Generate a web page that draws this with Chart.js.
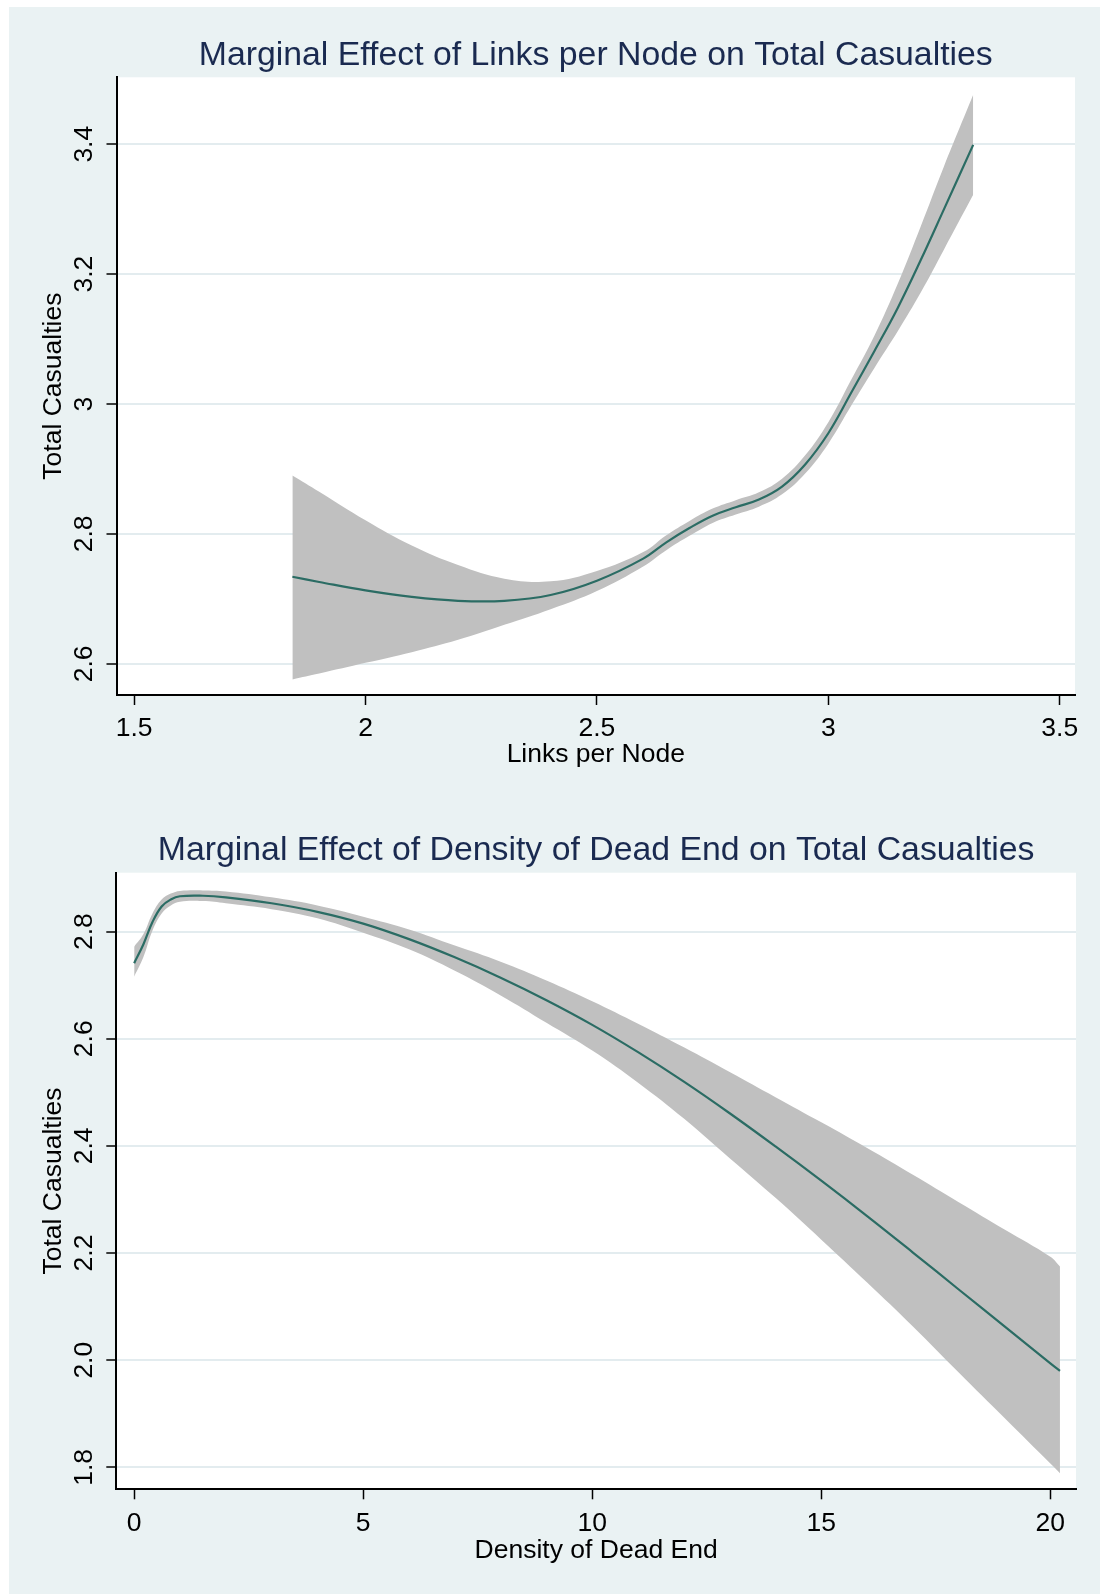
<!DOCTYPE html>
<html>
<head>
<meta charset="utf-8">
<title>Marginal effects on total casualties</title>
<script src="https://cdn.jsdelivr.net/npm/chart.js@4.4.1/dist/chart.umd.min.js"></script>
<style>
  body { margin: 0; background: #fff; width: 1100px; height: 1594px; position: relative; overflow: hidden; }
  #bg { position: absolute; left: 9px; top: 7px; width: 1091px; height: 1587px; background: #eaf2f3; }
  canvas { position: absolute; left: 0; }
  #linksChart { top: 0; }
  #deadEndChart { top: 790px; }
</style>
</head>
<body>
<div id="bg"></div>
<canvas id="linksChart" width="1100" height="790"></canvas>
<canvas id="deadEndChart" width="1100" height="804"></canvas>
<script>
// top panel: links per node
const linksX     = [1.842, 1.9, 2.0, 2.1, 2.2, 2.3, 2.4, 2.5, 2.6, 2.65, 2.7, 2.75, 2.8, 2.85, 2.9, 2.95, 3.0, 3.05, 3.1, 3.15, 3.2, 3.25, 3.313];
const linksFit   = [2.734, 2.726, 2.713, 2.703, 2.697, 2.697, 2.706, 2.728, 2.762, 2.787, 2.809, 2.828, 2.841, 2.853, 2.873, 2.907, 2.955, 3.018, 3.082, 3.148, 3.222, 3.300, 3.399];
const linksUpper = [2.890, 2.865, 2.821, 2.782, 2.752, 2.731, 2.727, 2.743, 2.772, 2.798, 2.820, 2.839, 2.852, 2.864, 2.885, 2.921, 2.972, 3.038, 3.106, 3.185, 3.274, 3.366, 3.476];
const linksLower = [2.576, 2.585, 2.6015, 2.618, 2.637, 2.660, 2.684, 2.712, 2.750, 2.775, 2.797, 2.817, 2.830, 2.842, 2.861, 2.893, 2.939, 2.998, 3.056, 3.112, 3.172, 3.238, 3.322];
const linksXTicks  = [1.5, 2, 2.5, 3, 3.5];
const linksXLabels = ['1.5', '2', '2.5', '3', '3.5'];
const linksYTicks  = [2.6, 2.8, 3.0, 3.2, 3.4];
const linksYLabels = ['2.6', '2.8', '3', '3.2', '3.4'];

// bottom panel: density of dead end
const deadX     = [0, 0.2, 0.4, 0.6, 0.8, 1.0, 1.5, 2, 3, 4, 5, 6, 7, 8, 9, 10, 11, 12, 13, 14, 15, 16, 17, 18, 19, 20, 20.21];
const deadFit   = [2.741, 2.776, 2.818, 2.847, 2.860, 2.866, 2.867, 2.864, 2.853, 2.837, 2.815, 2.786, 2.752, 2.714, 2.672, 2.626, 2.575, 2.520, 2.461, 2.399, 2.335, 2.269, 2.201, 2.132, 2.063, 1.994, 1.980];
const deadUpper = [2.772, 2.795, 2.834, 2.860, 2.871, 2.876, 2.877, 2.875, 2.864, 2.849, 2.828, 2.804, 2.774, 2.744, 2.709, 2.670, 2.628, 2.584, 2.538, 2.491, 2.444, 2.396, 2.346, 2.295, 2.244, 2.193, 2.175];
const deadLower = [2.716, 2.752, 2.802, 2.834, 2.849, 2.856, 2.857, 2.853, 2.842, 2.825, 2.798, 2.767, 2.727, 2.681, 2.630, 2.578, 2.518, 2.451, 2.377, 2.303, 2.225, 2.145, 2.063, 1.977, 1.892, 1.807, 1.789];
const deadXTicks  = [0, 5, 10, 15, 20];
const deadXLabels = ['0', '5', '10', '15', '20'];
const deadYTicks  = [1.8, 2.0, 2.2, 2.4, 2.6, 2.8];
const deadYLabels = ['1.8', '2.0', '2.2', '2.4', '2.6', '2.8'];

const FONT = '"Liberation Sans", Arial, sans-serif';
const LINE = '#2b6c64';
const BAND = '#c0c0c0';
const GRID = '#e3ecef';
const NAVY = '#1a2a50';

// white plot region on the blue-gray graph region
const whitePlot = {
  id: 'whitePlot',
  beforeDraw(chart) {
    const a = chart.chartArea;
    const ctx = chart.ctx;
    ctx.save();
    ctx.fillStyle = '#ffffff';
    ctx.fillRect(a.left, a.top, a.right - a.left, a.bottom - a.top);
    ctx.restore();
  }
};

function pts(xs, ys) {
  return xs.map((x, i) => ({ x: x, y: ys[i] }));
}

function marginsChart(id, c) {
  return new Chart(document.getElementById(id), {
    type: 'line',
    data: {
      datasets: [
        { label: 'fit', data: pts(c.xs, c.fit), borderColor: LINE, borderWidth: 2.2,
          pointRadius: 0, tension: 0.4, fill: false },
        { label: 'upper', data: pts(c.xs, c.upper), borderColor: 'rgba(0,0,0,0)', borderWidth: 1,
          pointRadius: 0, tension: 0.4, backgroundColor: BAND, fill: '+1' },
        { label: 'lower', data: pts(c.xs, c.lower), borderColor: 'rgba(0,0,0,0)', borderWidth: 1,
          pointRadius: 0, tension: 0.4, fill: false }
      ]
    },
    options: {
      responsive: false,
      animation: false,
      devicePixelRatio: 1,
      layout: { padding: { left: 0, right: c.rightPad, top: 0, bottom: 0 } },
      plugins: {
        legend: { display: false },
        tooltip: { enabled: false },
        title: {
          display: true, text: c.title, color: NAVY, fullSize: false,
          font: { family: FONT, size: 33.8, weight: 'normal', lineHeight: 1 },
          padding: c.titlePad
        }
      },
      scales: {
        x: {
          type: 'linear', min: c.xMin, max: c.xMax, bounds: 'data',
          afterBuildTicks: s => { s.ticks = c.xTicks.map(v => ({ value: v })); },
          afterFit: s => { s.height = c.xAxisHeight; },
          grid: { drawOnChartArea: false, drawTicks: true, tickLength: 10, tickColor: '#000', tickWidth: 1.5 },
          border: { display: true, color: '#000', width: 2 },
          ticks: {
            autoSkip: false, minRotation: 0, maxRotation: 0, color: '#000', padding: c.xTickPad,
            font: { family: FONT, size: 26.5 },
            callback: (v, i) => c.xLabels[i]
          },
          title: { display: true, text: c.xTitle, color: '#000', font: { family: FONT, size: 26.5 },
                   padding: { top: 0, bottom: c.xTitlePad } }
        },
        y: {
          type: 'linear', min: c.yMin, max: c.yMax, bounds: 'data',
          afterBuildTicks: s => { s.ticks = c.yTicks.map(v => ({ value: v })); },
          afterFit: s => { s.width = c.yAxisWidth; },
          grid: { color: GRID, lineWidth: 2, drawTicks: true, tickLength: 10, tickColor: '#000', tickWidth: 1.5 },
          border: { display: true, color: '#000', width: 2 },
          ticks: {
            autoSkip: false, minRotation: 90, maxRotation: 90, crossAlign: 'center', color: '#000', padding: 3.1,
            font: { family: FONT, size: 26.5 },
            callback: (v, i) => c.yLabels[i]
          },
          title: { display: true, text: c.yTitle, color: '#000', font: { family: FONT, size: 26.5 },
                   padding: { top: 37.7, bottom: 0 } }
        }
      }
    },
    plugins: [whitePlot]
  });
}

marginsChart('linksChart', {
  xs: linksX, fit: linksFit, upper: linksUpper, lower: linksLower,
  xTicks: linksXTicks, xLabels: linksXLabels, yTicks: linksYTicks, yLabels: linksYLabels,
  xMin: 1.462, xMax: 3.533, yMin: 2.552, yMax: 3.503,
  title: 'Marginal Effect of Links per Node on Total Casualties',
  xTitle: 'Links per Node', yTitle: 'Total Casualties',
  titlePad: { top: 38.6, bottom: 4.9 },
  rightPad: 25, yAxisWidth: 116.5, xAxisHeight: 95, xTickPad: 8.1, xTitlePad: 19
});

marginsChart('deadEndChart', {
  xs: deadX, fit: deadFit, upper: deadUpper, lower: deadLower,
  xTicks: deadXTicks, xLabels: deadXLabels, yTicks: deadYTicks, yLabels: deadYLabels,
  xMin: -0.39, xMax: 20.56, yMin: 1.759, yMax: 2.910,
  title: 'Marginal Effect of Density of Dead End on Total Casualties',
  xTitle: 'Density of Dead End', yTitle: 'Total Casualties',
  titlePad: { top: 44.1, bottom: 4.8 },
  rightPad: 24, yAxisWidth: 116.3, xAxisHeight: 104.7, xTickPad: 8.7, xTitlePad: 27.7
});
</script>
</body>
</html>
